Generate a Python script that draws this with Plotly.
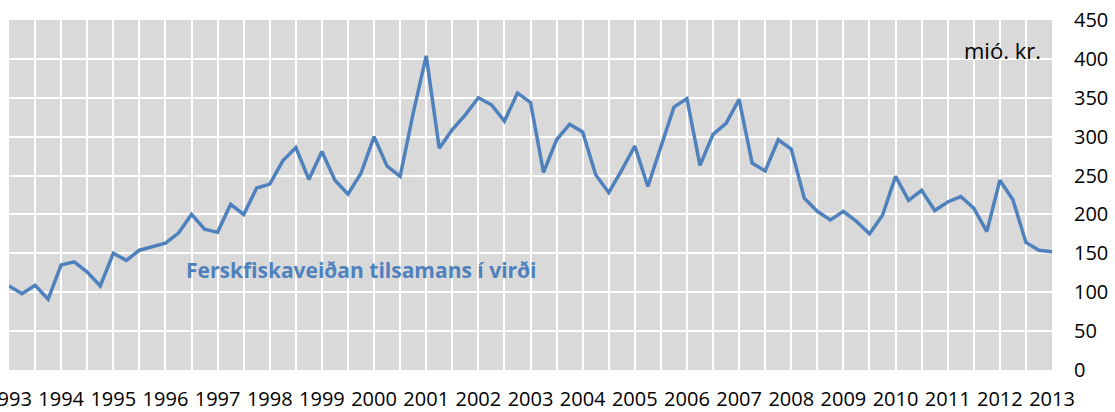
import plotly.graph_objects as go

# Quarterly values, 1993 Q1 - 2013 Q1 (mió. kr.)
years = list(range(1993, 2014))
values = [
    108, 98, 109, 91,
    135, 139, 126, 108,
    150, 141, 154, 158,
    163, 176, 200, 181,
    177, 213, 200, 234,
    239, 269, 286, 245,
    281, 244, 226, 253,
    300, 262, 249, 330,
    404, 285, 309, 328,
    350, 341, 320, 356,
    344, 254, 296, 316,
    306, 251, 228, 257,
    288, 236, 287, 338,
    349, 263, 303, 317,
    348, 266, 256, 296,
    284, 221, 204, 193,
    204, 191, 175, 199,
    249, 218, 231, 205,
    216, 223, 208, 178,
    244, 219, 164, 154,
    152,
]
x_idx = list(range(len(values)))
year_ticks = [i * 4 for i in range(len(years))]
year_labels = [str(y) for y in years]

line_color = "#4F81BD"
font_family = "Open Sans"

fig = go.Figure()
fig.add_trace(go.Scatter(
    x=x_idx,
    y=values,
    mode="lines",
    line=dict(color=line_color, width=3.5),
    showlegend=False,
    hoverinfo="skip",
))

# Series label and unit text inside the plot
fig.add_annotation(
    x=27, y=129, xref="x", yref="y",
    text="<b>Ferskfiskaveiðan tilsamans í virði</b>",
    showarrow=False,
    font=dict(family=font_family, size=21, color=line_color),
)
fig.add_annotation(
    x=79.3, y=411, xref="x", yref="y",
    text="mió. kr.",
    showarrow=False, xanchor="right",
    font=dict(family=font_family, size=22, color="#000000"),
)

fig.update_layout(
    width=1115,
    height=412,
    margin=dict(l=9, r=63, t=20, b=42),
    paper_bgcolor="white",
    plot_bgcolor="#D9D9D9",
    font=dict(family=font_family, size=20, color="#000000"),
    xaxis=dict(
        range=[0, 80],
        tickmode="array",
        tickvals=year_ticks,
        ticktext=year_labels,
        showgrid=True,
        gridcolor="white",
        gridwidth=1.5,
        minor=dict(dtick=2, tick0=0, showgrid=True, gridcolor="white", gridwidth=1.5),
        zeroline=False,
        showline=False,
        ticks="",
        ticklabelstandoff=15,
        ticklabeloverflow="allow",
        automargin=False,
    ),
    yaxis=dict(
        range=[0, 450],
        dtick=50,
        side="right",
        showgrid=True,
        gridcolor="white",
        gridwidth=1.5,
        zeroline=False,
        showline=False,
        ticks="",
        ticklabelstandoff=21,
        ticklabeloverflow="allow",
        automargin=False,
    ),
)

# drop the default page margin so the figure sits at the window's top-left corner
fig.write_html(
    "out.html",
    config={"displayModeBar": False},
    post_script="document.body.style.margin = '0';",
)
